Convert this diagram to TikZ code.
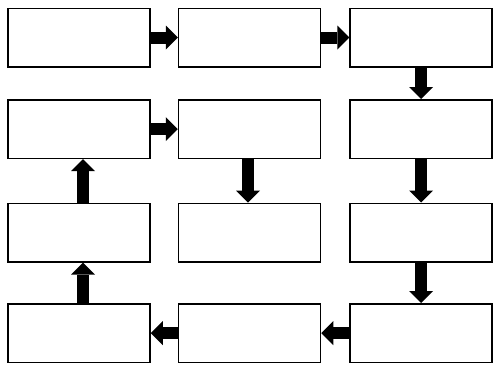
\documentclass[tikz,border=0pt]{standalone}
\usetikzlibrary{arrows.meta}
\begin{document}
\begin{tikzpicture}[x=1pt,y=1pt,
  box/.style={draw=black,fill=white,line width=1.5pt,rectangle,inner sep=0pt,
    minimum width=142pt,minimum height=58.5pt},
  blockarrow/.style={draw=black,line width=12pt,
    -{Triangle[width=24pt,length=12pt,line width=0pt]}}]
\useasboundingbox (0,0) rectangle (500,-375);
% columns: 79, 249.5, 421 ; rows: 37.5, 129, 232.5, 333
\node[box] (b11) at (79,-37.5) {};
\node[box] (b12) at (249.5,-37.5) {};
\node[box] (b13) at (421,-37.5) {};
\node[box] (b21) at (79,-129) {};
\node[box] (b22) at (249.5,-129) {};
\node[box] (b23) at (421,-129) {};
\node[box] (b31) at (79,-232.5) {};
\node[box] (b32) at (249.5,-232.5) {};
\node[box] (b33) at (421,-232.5) {};
\node[box] (b41) at (79,-333) {};
\node[box] (b42) at (249.5,-333) {};
\node[box] (b43) at (421,-333) {};
% arrows
\draw[blockarrow] (b11.east) -- (b12.west);
\draw[blockarrow] (b12.east) -- (b13.west);
\draw[blockarrow] (b13.south) -- (b23.north);
\draw[blockarrow] (b21.east) -- (b22.west);
\draw[blockarrow] ([xshift=-1.5pt]b22.south) -- ([xshift=-1.5pt]b32.north);
\draw[blockarrow] (b23.south) -- (b33.north);
\draw[blockarrow] (b33.south) -- (b43.north);
\draw[blockarrow] (b43.west) -- (b42.east);
\draw[blockarrow] (b42.west) -- (b41.east);
\draw[blockarrow] ([xshift=4pt]b41.north) -- ([xshift=4pt]b31.south);
\draw[blockarrow] ([xshift=4pt]b31.north) -- ([xshift=4pt]b21.south);
\end{tikzpicture}
\end{document}
